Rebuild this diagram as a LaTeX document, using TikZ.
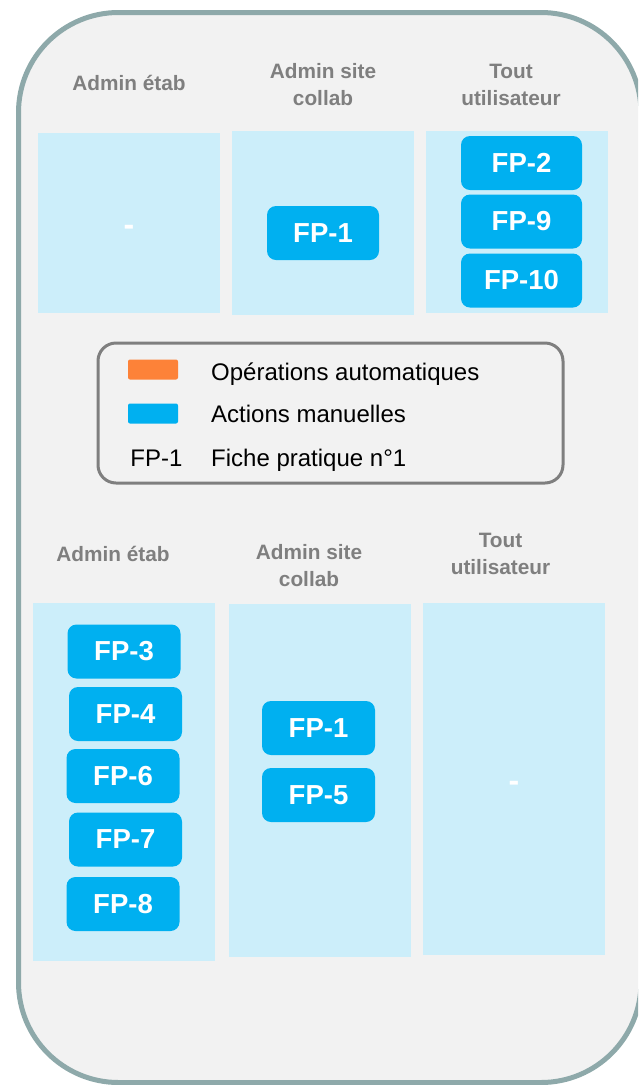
\documentclass[tikz,border=0pt]{standalone}
\usepackage{fontspec}
\setmainfont{Liberation Sans}
\definecolor{bg}{HTML}{F2F2F2}
\definecolor{frame}{HTML}{8EA9AA}
\definecolor{colfill}{HTML}{CCEEFA}
\definecolor{fpblue}{HTML}{00B0F0}
\definecolor{headgray}{HTML}{7F7F7F}
\definecolor{legorange}{HTML}{FD8238}
\begin{document}
\begin{tikzpicture}[x=1pt,y=-1pt,
  col/.style={fill=colfill, draw=none, inner sep=0, minimum width=182pt},
  fp/.style={fill=fpblue, rounded corners=9pt, minimum width=113pt, minimum height=54pt, inner sep=0, text=white, font=\fontsize{27.5}{30}\selectfont\bfseries},
  head/.style={text=headgray, align=center, font=\fontsize{20.8}{27}\selectfont\bfseries, inner sep=0},
  dashmark/.style={text=white, font=\fontsize{32}{34}\selectfont\bfseries, inner sep=0, anchor=base},
  leg/.style={anchor=base west, inner sep=0, font=\fontsize{24}{28}\selectfont},
  swatch/.style={minimum width=50pt, minimum height=20pt, inner sep=0, rounded corners=2pt}]
\useasboundingbox (0,0) rectangle (638,1085);
\clip (0,0) rectangle (638,1085);
\draw[fill=bg, draw=frame, line width=5pt, rounded corners=100pt] (18.5,12.5) rectangle (641,1082.5);

% top section columns
\node[col, minimum height=180pt] (t1) at (129,223) {};
\node[col, minimum height=184pt] (t2) at (323,223) {};
\node[col, minimum height=182pt] (t3) at (517,222) {};
\node[dashmark] (t1dash) at (129,235.5) {-};
\node[fp, minimum width=112pt] (tfp1) at (323,233) {FP-1};
\node[fp, minimum width=121pt] (tfp2) at (521.5,163) {FP-2};
\node[fp, minimum width=121pt] (tfp9) at (521.5,221.5) {FP-9};
\node[fp, minimum width=121pt] (tfp10) at (521.5,280.5) {FP-10};

\node[head] (th1) at (129,83) {Admin étab};
\node[head] (th2) at (323,84.5) {Admin site\\collab};
\node[head] (th3) at (511,84.5) {Tout\\utilisateur};

% legend
\node[draw=headgray, line width=3pt, rounded corners=18pt, minimum width=465pt, minimum height=140pt, inner sep=0] (legend) at (330.5,413) {};
\node[swatch, fill=legorange] (swauto) at (153,369.5) {};
\node[swatch, fill=fpblue] (swman) at (153,413.5) {};
\node[inner sep=0, anchor=base, font=\fontsize{24}{28}\selectfont] (legfp) at (156.5,466) {FP-1};
\node[leg] (legauto) at (211,380) {Opérations automatiques};
\node[leg] (legman) at (211,422) {Actions manuelles};
\node[leg] (legfiche) at (211,466) {Fiche pratique n°1};

% bottom section columns
\node[col, minimum height=358pt] (b1) at (124,782) {};
\node[col, minimum height=353pt] (b2) at (320,780.5) {};
\node[col, minimum height=352pt] (b3) at (514,779) {};
\node[dashmark] (b3dash) at (514,791.5) {-};

\node[head] (bh1) at (113,554) {Admin étab};
\node[head] (bh2) at (309,565.5) {Admin site\\collab};
\node[head] (bh3) at (500.5,554) {Tout\\utilisateur};

\node[fp] (bfp3) at (124,651.5) {FP-3};
\node[fp] (bfp4) at (125.5,714) {FP-4};
\node[fp] (bfp6) at (123,776) {FP-6};
\node[fp] (bfp7) at (125.5,839.5) {FP-7};
\node[fp] (bfp8) at (123,904) {FP-8};
\node[fp] (bfp1) at (318.5,728) {FP-1};
\node[fp] (bfp5) at (318.5,795) {FP-5};
\end{tikzpicture}
\end{document}
